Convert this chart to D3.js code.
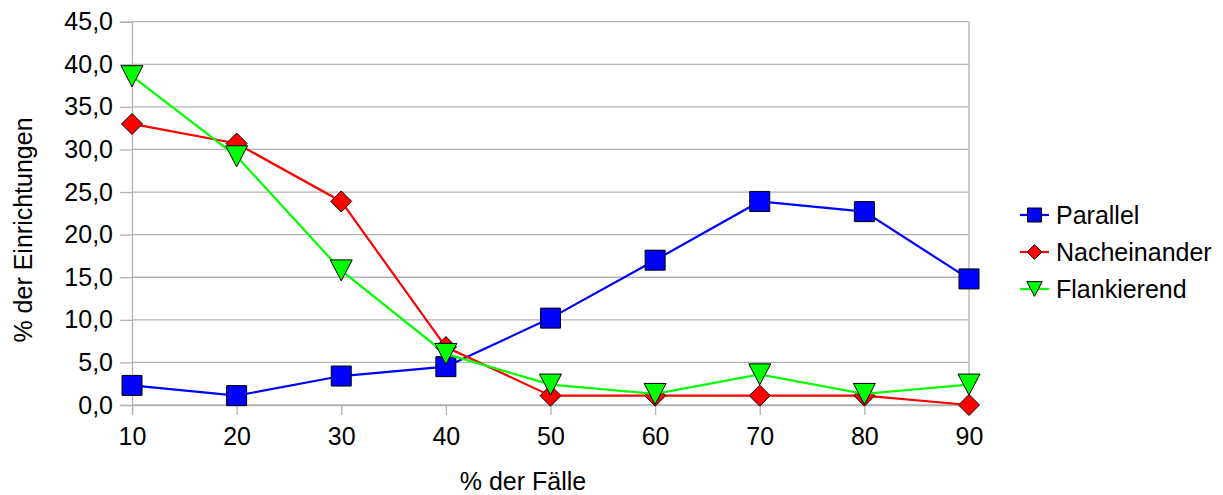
<!DOCTYPE html>
<html>
<head>
<meta charset="utf-8">
<script src="https://cdn.jsdelivr.net/npm/d3@7"></script>
<style>
  body { margin: 0; background: #fff; }
  text { font-family: "Liberation Sans", Arial, sans-serif; fill: #000; }
</style>
</head>
<body>
<div id="chart"></div>
<script>
// categories (% der Fälle)
var categories = [10, 20, 30, 40, 50, 60, 70, 80, 90];
// series values, % der Einrichtungen
var parallel     = [2.3, 1.1, 3.4, 4.5, 10.2, 17.0, 23.9, 22.7, 14.8];
var nacheinander = [33.0, 30.7, 23.9, 6.8, 1.1, 1.1, 1.1, 1.1, 0.0];
var flankierend  = [38.6, 29.2, 15.8, 6.0, 2.4, 1.3, 3.6, 1.3, 2.4];
var yTicks = [0, 5, 10, 15, 20, 25, 30, 35, 40, 45];
var seriesNames = ["Parallel", "Nacheinander", "Flankierend"];

var series = [
  {name: seriesNames[0], values: parallel,     color: "#0000ff", symbol: "square"},
  {name: seriesNames[1], values: nacheinander, color: "#ff0000", symbol: "diamond"},
  {name: seriesNames[2], values: flankierend,  color: "#00ff00", symbol: "triangle"}
];

var width = 1223, height = 495;
// plot box (don't call these top/left, window.top is taken)
var plotLeft = 132, plotRight = 969, plotTop = 21.7, plotBottom = 405;
var fontSize = "25px";

var svg = d3.select("#chart").append("svg")
    .attr("width", width)
    .attr("height", height);

var x = d3.scaleLinear().domain([10, 90]).range([plotLeft, plotRight]);
var y = d3.scaleLinear().domain([0, 45]).range([plotBottom, plotTop]);

// grid
svg.append("g").selectAll("line")
    .data(yTicks)
    .enter().append("line")
    .attr("x1", plotLeft).attr("x2", plotRight)
    .attr("y1", function(d){ return y(d); })
    .attr("y2", function(d){ return y(d); })
    .attr("stroke", "#b3b3b3")
    .attr("stroke-width", 1.3);

// right border of plot
svg.append("line")
    .attr("x1", plotRight).attr("x2", plotRight)
    .attr("y1", plotTop).attr("y2", plotBottom)
    .attr("stroke", "#b3b3b3").attr("stroke-width", 1.3);

// y axis
var yAxis = svg.append("g")
    .attr("transform", "translate(" + plotLeft + ",0)")
    .call(d3.axisLeft(y).tickValues(yTicks).tickSize(12).tickPadding(7)
      .tickFormat(function(d){ return d3.format(".1f")(d).replace(".", ","); }));
// x axis
var xAxis = svg.append("g")
    .attr("transform", "translate(0," + plotBottom + ")")
    .call(d3.axisBottom(x).tickValues(categories).tickSize(10).tickPadding(12));

[yAxis, xAxis].forEach(function(a){
  a.select(".domain").attr("stroke", "#b3b3b3").attr("stroke-width", 1.3);
  a.selectAll(".tick line").attr("stroke", "#b3b3b3").attr("stroke-width", 1.3);
  a.selectAll("text")
    .style("font-family", "'Liberation Sans', Arial, sans-serif")
    .style("font-size", fontSize)
    .attr("fill", "#000");
});

// axis titles
svg.append("text")
    .attr("x", (462 + 584) / 2)
    .attr("y", 490)
    .attr("text-anchor", "middle")
    .style("font-size", fontSize)
    .text("% der Fälle");

svg.append("text")
    .attr("transform", "translate(32,230) rotate(-90)")
    .attr("text-anchor", "middle")
    .style("font-size", fontSize)
    .text("% der Einrichtungen");

// marker shapes like the office ones: square, 45deg diamond, wide down-triangle
function symbolPath(kind, r){
  if (kind === "square")
    return "M" + (-r) + "," + (-r) + "H" + r + "V" + r + "H" + (-r) + "Z";
  if (kind === "diamond")
    return "M0," + (-r * 1.05) + "L" + (r * 1.05) + ",0L0," + (r * 1.05) + "L" + (-r * 1.05) + ",0Z";
  // triangle pointing down
  return "M" + (-r * 1.1) + "," + (-r * 1.05) + "H" + (r * 1.1) + "L0," + (r * 1.05) + "Z";
}

function drawSymbol(g, s, cx, cy, r){
  g.append("path")
    .attr("d", symbolPath(s.symbol, r))
    .attr("transform", "translate(" + cx + "," + cy + ")")
    .attr("fill", s.color)
    .attr("stroke", "#000")
    .attr("stroke-width", 1);
}

var line = d3.line()
    .x(function(d, i){ return x(categories[i]); })
    .y(function(d){ return y(d); });

series.forEach(function(s){
  var g = svg.append("g");
  g.append("path")
    .datum(s.values)
    .attr("d", line)
    .attr("fill", "none")
    .attr("stroke", s.color)
    .attr("stroke-width", 2.2);
  s.values.forEach(function(v, i){
    drawSymbol(g, s, x(categories[i]), y(v), 10);
  });
});

// legend
var legend = svg.append("g");
series.forEach(function(s, i){
  var ly = 215 + i * 37;
  legend.append("line")
    .attr("x1", 1020).attr("x2", 1049)
    .attr("y1", ly).attr("y2", ly)
    .attr("stroke", s.color).attr("stroke-width", 2.2);
  drawSymbol(legend, s, 1034.5, ly, 7);
  legend.append("text")
    .attr("x", 1056)
    .attr("y", ly + 9)
    .style("font-size", fontSize)
    .text(s.name);
});
</script>
</body>
</html>
